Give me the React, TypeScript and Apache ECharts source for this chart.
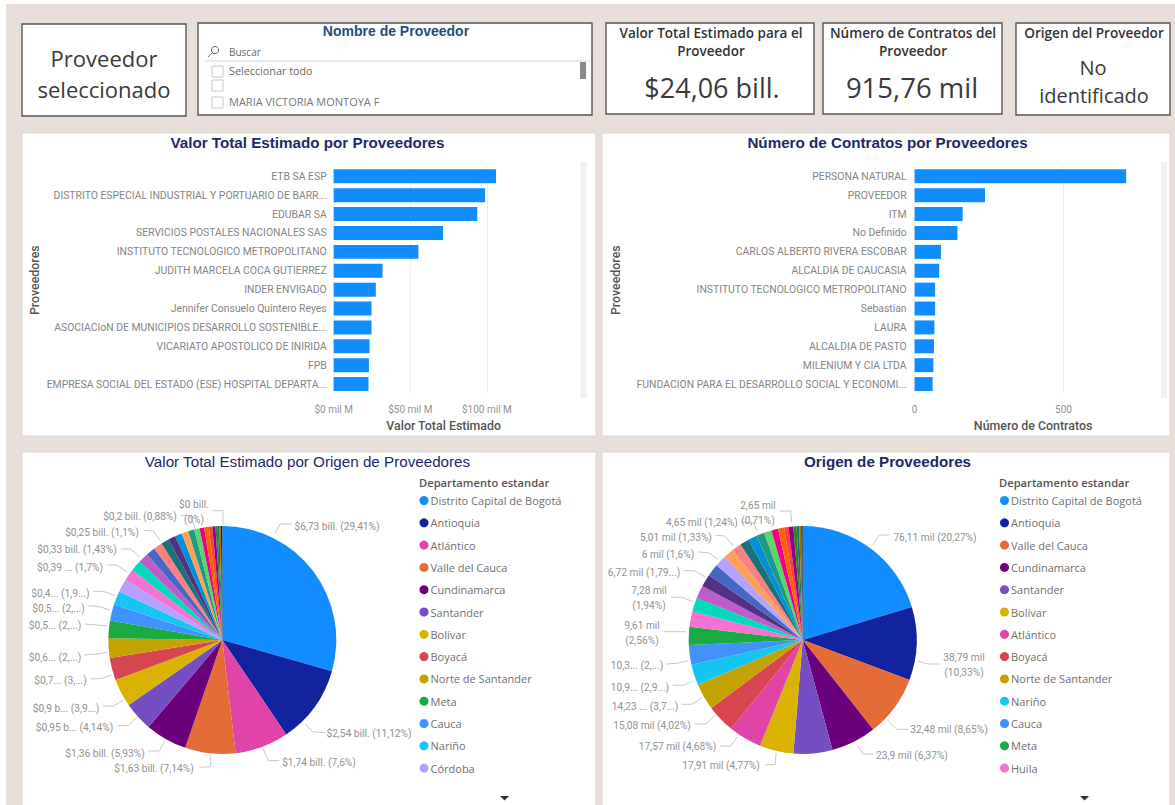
import React, { useEffect, useRef } from "react";
import * as echarts from "echarts";

const valorCategories = ["ETB SA ESP","DISTRITO ESPECIAL INDUSTRIAL Y PORTUARIO DE BARR...","EDUBAR SA","SERVICIOS POSTALES NACIONALES SAS","INSTITUTO TECNOLOGICO METROPOLITANO","JUDITH MARCELA COCA GUTIERREZ","INDER ENVIGADO","Jennifer Consuelo Quintero Reyes","ASOCIACIoN DE MUNICIPIOS DESARROLLO SOSTENIBLE...","VICARIATO APOSTOLICO DE INIRIDA","FPB","EMPRESA SOCIAL DEL ESTADO (ESE) HOSPITAL DEPARTA..."];
const valorValues = [106, 98.8, 93.7, 71.4, 55.3, 31.9, 27.5, 24.7, 24.7, 23.4, 23, 22.7];
const contratosCategories = ["PERSONA NATURAL","PROVEEDOR","ITM","No Definido","CARLOS ALBERTO RIVERA ESCOBAR","ALCALDIA DE CAUCASIA","INSTITUTO TECNOLOGICO METROPOLITANO","Sebastian","LAURA","ALCALDIA DE PASTO","MILENIUM Y CIA LTDA","FUNDACION PARA EL DESARROLLO SOCIAL Y ECONOMI..."];
const contratosValues = [710.5, 236.5, 161.5, 144, 88.6, 82.6, 69, 69, 66.5, 65, 63, 60.5];

const colorByName: Record<string, string> = {
  "Distrito Capital de Bogotá": "#118DFF", "Antioquia": "#12239E", "Valle del Cauca": "#E66C37",
  "Cundinamarca": "#6B007B", "Atlántico": "#E044A7", "Santander": "#744EC2", "Bolívar": "#D9B300",
  "Boyacá": "#D64550", "Norte de Santander": "#C4A200", "Meta": "#1AAB40", "Cauca": "#4092FF",
  "Nariño": "#15C6F4", "Córdoba": "#B5A1FF", "Huila": "#F472D0", "Otro 1": "#00DBBC", "Otro 2": "#BE5DC9",
  "Otro 3": "#4668C5", "Otro 4": "#FF8080", "Otro 5": "#197278", "Otro 6": "#533285", "Otro 7": "#0091D5",
  "Otro 8": "#FFA058", "Otro 9": "#1F9A85", "Otro 10": "#5BD667", "Otro 11": "#EC008C", "Otro 12": "#FF6300",
  "Otro 13": "#FF4141", "Otro 14": "#99008A", "Otro 15": "#25891C", "Otro 16": "#197278", "Otro 17": "#99700A",
  "Otro 18": "#222222",
};

const origenValorNames = ["Distrito Capital de Bogotá","Antioquia","Atlántico","Valle del Cauca","Cundinamarca","Santander","Bolívar","Boyacá","Norte de Santander","Meta","Cauca","Nariño","Córdoba","Huila","Otro 1","Otro 2","Otro 3","Otro 4","Otro 5","Otro 6","Otro 7","Otro 8","Otro 9","Otro 10","Otro 11","Otro 12","Otro 13","Otro 14","Otro 15","Otro 16","Otro 17","Otro 18"];
const origenValorPct = [29.41,11.12,7.6,7.14,5.93,4.14,3.95,3.2,2.75,2.5,2.3,1.95,1.85,1.7,1.55,1.43,1.3,1.25,1.1,1.05,1.0,0.95,0.88,0.75,0.65,0.65,0.5,0.45,0.3,0.25,0.2,0.2];
const origenValorLabels = ["$6,73 bill. (29,41%)","$2,54 bill. (11,12%)","$1,74 bill. (7,6%)","$1,63 bill. (7,14%)","$1,36 bill. (5,93%)","$0,95 b... (4,14%)","$0,9 b... (3,9...)","$0,7... (3,...)","$0,6... (2,...)","$0,5... (2,...)","$0,5... (2,...)","$0,4... (1,9...)","","$0,39 ... (1,7%)","","$0,33 bill. (1,43%)","","","$0,25 bill. (1,1%)","","","","$0,2 bill. (0,88%)","","","","","","","","","$0 bill.\n(0%)"];
const origenValorLabelAt: Record<number, number[]> = {0:[337,526],1:[369,733],2:[319,762],3:[154,768],4:[105,753],5:[74.5,727],6:[66,708],7:[60.5,680],8:[55,657],9:[55,625],10:[58.5,608],11:[60.5,593],13:[70,567],15:[77,549],18:[102,532],22:[140,516],31:[194,512]};
const origenValorLeaders: Record<number, number[][]> = {
  0:[[275,534],[280,524],[291.7,524]],1:[[305,724],[312.7,731.7],[325,732.7]],2:[[263.3,749],[268.3,760.7],[279.3,760.7]],
  3:[[210.7,755.7],[210.7,766.7],[199.3,767.3]],4:[[165,740.7],[159.3,751],[148.3,751]],5:[[136.7,717.7],[128.3,725.7],[117.3,725.7]],
  6:[[123.3,700],[113.3,706],[102.7,706]],7:[[111.7,675],[101.7,678.3],[90.7,679]],8:[[107.3,652.3],[96.7,654],[84,655]],
  9:[[107.3,625.7],[96.7,625],[85,624]],10:[[110,610],[99.3,606.7],[88.3,605.7]],11:[[115,595.7],[104.3,591.7],[93.3,591.3]],
  13:[[127.3,572.3],[116.7,565],[107.3,565]],15:[[140,557.3],[130.7,549],[121,549]],18:[[160,540.7],[153.3,531],[143.3,530.3]],
  22:[[195.7,529],[190,515.7],[180.7,515.7]],31:[[223,525],[223,510.7],[212.7,510.7]],
};

const origenContratosNames = ["Distrito Capital de Bogotá","Antioquia","Valle del Cauca","Cundinamarca","Santander","Bolívar","Atlántico","Boyacá","Norte de Santander","Nariño","Cauca","Meta","Huila","Otro 1","Otro 2","Otro 6","Otro 3","Córdoba","Otro 8","Otro 4","Otro 5","Otro 7","Otro 9","Otro 10","Otro 11","Otro 12","Otro 13","Otro 14","Otro 15","Otro 16","Otro 17","Otro 18"];
const origenContratosPct = [20.27,10.33,8.65,6.37,5.5,4.77,4.68,4.02,3.75,2.93,2.75,2.56,2.2,1.94,1.85,1.79,1.7,1.6,1.5,1.33,1.3,1.24,1.15,1.05,0.95,0.85,0.6,0.71,0.45,0.35,0.3,0.2];
const origenContratosLabels = ["76,11 mil (20,27%)","38,79 mil\n(10,33%)","32,48 mil (8,65%)","23,9 mil (6,37%)","","17,91 mil (4,77%)","17,57 mil (4,68%)","15,08 mil (4,02%)","14,23 ... (3,7...)","10,9... (2,9...)","10,3... (2,...)","9,61 mil\n(2,56%)","","7,28 mil\n(1,94%)","","6,72 mil (1,79...)","","6 mil (1,6%)","","5,01 mil (1,33%)","","4,65 mil (1,24%)","","","","","","2,65 mil\n(0,71%)","","","",""];
const origenContratosLabelAt: Record<number, number[]> = {0:[935,537],1:[964,665],2:[949,729],3:[912,755],5:[721,765],6:[677.5,746],7:[652,725],8:[645,706],9:[640,687],10:[637,665],11:[642,633],13:[649,598],15:[644,572],17:[668,554],19:[676,537],21:[702,522],27:[758,513]};
const origenContratosLeaders: Record<number, number[][]> = {
  0:[[872.7,545],[879.3,535],[889.3,535]],1:[[917.7,661],[927.7,664],[939.3,664]],2:[[887.3,720],[896.7,729.3],[908.3,729.3]],
  3:[[857.3,745],[863.3,754],[873.3,754]],5:[[776,753.3],[775.3,764.3],[765,765]],6:[[737.3,736.7],[730.7,746],[720,746]],
  7:[[714,716],[706,724],[695,724]],8:[[701.7,698.3],[691.7,704.3],[681.7,704.3]],9:[[693.3,681],[683.3,685.3],[672.7,685.3]],
  10:[[687.7,660.7],[677.3,663.3],[666,664]],11:[[686,631.7],[675,631.7],[664.3,631.7]],13:[[692.7,601.7],[682.3,597.3],[671,597.3]],
  15:[[705,576.7],[694.3,570.7],[683.3,570.7]],17:[[718.3,559.3],[708.3,552.7],[698.3,552]],19:[[733.3,546],[725,536],[715.7,535.3]],
  21:[[757.3,531],[752.7,522.3],[741.7,522.3]],27:[[791.7,522.7],[790.7,511],[780,511]],
};

const legendValor = origenValorNames.slice(0, 13);
const legendContratos = origenContratosNames.slice(0, 13);

const UI = "'Open Sans', 'Noto Sans', sans-serif";
const LABEL = "Roboto, 'Noto Sans', sans-serif";
const HEAD = "'Liberation Sans', Arial, sans-serif";

const txt = (text: string, x: number, y: number, fontSize: number, fill: string, align = "center", fontWeight: any = "normal", fontFamily = UI) => ({
  type: "text", z: 3,
  style: { text, x, y, fontSize, fontFamily, fontWeight, fill, align, verticalAlign: "middle", textAlign: align, textVerticalAlign: "middle" },
});
const box = (x: number, y: number, w: number, h: number, stroke = "#555555", lineWidth = 1.4) => ({
  type: "rect", z: -5, shape: { x, y, width: w, height: h }, style: { fill: "#ffffff", stroke, lineWidth },
});
const fillRect = (x: number, y: number, w: number, h: number, fill: string, z = -4) => ({
  type: "rect", z, shape: { x, y, width: w, height: h }, style: { fill },
});
const checkbox = (y: number) => ({ type: "rect", z: 2, shape: { x: 212, y, width: 11, height: 11 }, style: { fill: "#fff", stroke: "#c8c8c8", lineWidth: 1 } });
const arrow = (x: number) => ({ type: "polygon", z: 3, shape: { points: [[x, 796], [x + 9, 796], [x + 4.5, 800.5]] }, style: { fill: "#333333" } });

const barGrid = (left: number, width: number) => ({ left, width, top: 166.9, height: 226.6 });

const xAxisOf = (gridIndex: number, max: number, interval: number, name: string, fmt: (v: number) => string) => ({
  type: "value", gridIndex, min: 0, max, interval, name, nameLocation: "middle", nameGap: 26,
  nameTextStyle: { fontFamily: LABEL, fontSize: 12.4, color: "#555555", fontWeight: 500, letterSpacing: 0.4 },
  axisLine: { show: false }, axisTick: { show: false },
  axisLabel: { color: "#929292", fontSize: 10, fontFamily: LABEL, margin: 11, formatter: fmt, showMaxLabel: false },
  splitLine: { show: true, showMaxLine: false, lineStyle: { color: "#dddddd", type: "dotted", width: 1 } },
});
const yAxisOf = (gridIndex: number, data: string[], gap: number, margin: number) => ({
  type: "category", gridIndex, data, inverse: true, name: "Proveedores", nameLocation: "middle", nameGap: gap,
  nameTextStyle: { fontFamily: LABEL, fontSize: 12.4, color: "#555555", fontWeight: 500, letterSpacing: 0.4 },
  axisLine: { show: false }, axisTick: { show: false },
  axisLabel: { color: "#858585", fontSize: 10.4, fontFamily: LABEL, margin, interval: 0 },
  splitLine: { show: false },
});
const barSeries = (idx: number, data: number[]) => ({
  type: "bar", xAxisIndex: idx, yAxisIndex: idx, data, barCategoryGap: "26%",
  itemStyle: { color: "#118DFF" },
});
const pieSeries = (cx: number, names: string[], vals: number[], labels: string[], at: Record<number, number[]>, leaders: Record<number, number[][]>) => ({
  type: "pie", center: [cx, 640], radius: [0, 114], startAngle: 90, clockwise: true, avoidLabelOverlap: false,
  minShowLabelAngle: 0, percentPrecision: 2,
  data: names.map((name, i) => ({
    name, value: vals[i], itemStyle: { color: colorByName[name] },
    label: labels[i] ? { show: true, formatter: labels[i] } : { show: false },
    labelLine: { show: !!labels[i] },
  })),
  label: { color: "#929292", fontSize: 10.2, fontFamily: LABEL, lineHeight: 15, align: "center" },
  labelLine: { length: 8, length2: 8, lineStyle: { color: "#c8c8c8", width: 1 } },
  labelLayout: (p: any) => {
    const pos = at[p.dataIndex];
    return pos ? { x: pos[0], y: pos[1], align: "center", verticalAlign: "middle", hideOverlap: false, labelLinePoints: leaders[p.dataIndex] } : {};
  },
  emphasis: { disabled: true },
});
const legendOf = (left: number, data: string[]) => ({
  show: true, orient: "vertical", left, top: 494, data, icon: "circle", itemWidth: 9, itemHeight: 9, itemGap: 9.3,
  selectedMode: false, padding: 0,
  textStyle: { color: "#6f6f6f", fontSize: 11, fontFamily: UI, lineHeight: 13, padding: [0, 0, 0, -3] },
});

const pageGraphics: any[] = [
  fillRect(6, 4, 1169, 801, "#E8DFDA", -8),
  box(22, 24, 164, 92), box(198, 23, 394, 92), box(606, 23, 208, 91), box(823, 23, 179, 91), box(1016, 23, 154, 92),
  box(22, 133, 574, 303, "#dcd8d4", 1), box(602, 133, 568, 303, "#dcd8d4", 1),
  box(22, 452, 574, 360, "#dcd8d4", 1), box(602, 452, 568, 360, "#dcd8d4", 1),
  txt("Proveedor", 104, 58, 22, "#3a3a3a"), txt("seleccionado", 104, 89, 22, "#3a3a3a"),
  txt("Buscar", 229, 52, 10, "#666666", "left"),
  { type: "circle", z: 3, shape: { cx: 215, cy: 50, r: 3.6 }, style: { fill: "none", stroke: "#666666", lineWidth: 1 } },
  { type: "line", z: 3, shape: { x1: 212.5, y1: 52.8, x2: 208, y2: 57 }, style: { stroke: "#666666", lineWidth: 1 } },
  { type: "line", z: 3, shape: { x1: 205, y1: 61, x2: 590, y2: 61 }, style: { stroke: "#d5d5d5", lineWidth: 1 } },
  checkbox(66), checkbox(80), checkbox(97),
  txt("Seleccionar todo", 229, 70.5, 10.8, "#666666", "left"), txt("MARIA VICTORIA MONTOYA F", 229, 101, 11, "#777777", "left"),
  fillRect(580, 62, 6, 17, "#8a8a8a"),
  txt("Nombre de Proveedor", 396, 31, 14, "#1f4e79", "center", "bold", HEAD),
  txt("Valor Total Estimado para el", 711, 32.5, 13.5, "#333333", "center", 600), txt("Proveedor", 711, 50.5, 13.5, "#333333", "center", 600),
  txt("$24,06 bill.", 712, 87, 27, "#3a3a3a"),
  txt("Número de Contratos del", 913, 32.5, 13.6, "#333333", "center", 600), txt("Proveedor", 913, 50.5, 13.6, "#333333", "center", 600),
  txt("915,76 mil", 912, 87, 27.5, "#3a3a3a"),
  txt("Origen del Proveedor", 1094, 32.5, 13.6, "#333333", "center", 600),
  txt("No", 1093, 67, 20, "#3a3a3a"), txt("identificado", 1094, 95, 20, "#3a3a3a"),
  fillRect(580.5, 162, 6, 236, "#f0f0f0"), fillRect(1161, 162, 6, 236, "#f0f0f0"),
  txt("Departamento estandar", 419, 482.5, 11.2, "#555555", "left", 600), txt("Departamento estandar", 999, 482.5, 11.2, "#555555", "left", 600),
  arrow(500), arrow(1080),
];

const titleOf = (text: string, cx: number, top: number, fontWeight: any, fontSize: number) => ({
  text, left: cx, top, textAlign: "center",
  textStyle: { fontFamily: HEAD, fontSize, fontWeight, color: "#1c2a66" },
});

export default function App() {
  const ref = useRef<HTMLDivElement>(null);
  useEffect(() => {
    const chart = echarts.init(ref.current!, undefined, { renderer: "svg" });
    chart.setOption({
      animation: false,
      backgroundColor: "#ffffff",
      title: [
        titleOf("Valor Total Estimado por Proveedores", 302.5, 130, "bold", 15.2),
        titleOf("Número de Contratos por Proveedores", 882.5, 130, "bold", 15.2),
        titleOf("Valor Total Estimado por Origen de Proveedores", 302.5, 449, "normal", 15.2),
        titleOf("Origen de Proveedores", 882.5, 449, "bold", 15.2),
      ],
      graphic: { elements: pageGraphics },
      grid: [barGrid(333.7, 220), barGrid(914.6, 237)],
      xAxis: [
        xAxisOf(0, 143.6, 50, "Valor Total Estimado", (v) => `$${v} mil M`),
        xAxisOf(1, 796, 500, "Número de Contratos", (v) => `${v}`),
      ],
      yAxis: [yAxisOf(0, valorCategories, 293, 7), yAxisOf(1, contratosCategories, 293, 8)],
      legend: [legendOf(419.5, legendValor), legendOf(1000, legendContratos)],
      series: [
        barSeries(0, valorValues),
        barSeries(1, contratosValues),
        pieSeries(222.3, origenValorNames, origenValorPct, origenValorLabels, origenValorLabelAt, origenValorLeaders),
        pieSeries(802.7, origenContratosNames, origenContratosPct, origenContratosLabels, origenContratosLabelAt, origenContratosLeaders),
      ],
    });
    return () => chart.dispose();
  }, []);
  return <div ref={ref} style={{ position: "fixed", left: 0, top: 0, width: 1175, height: 805 }} />;
}
